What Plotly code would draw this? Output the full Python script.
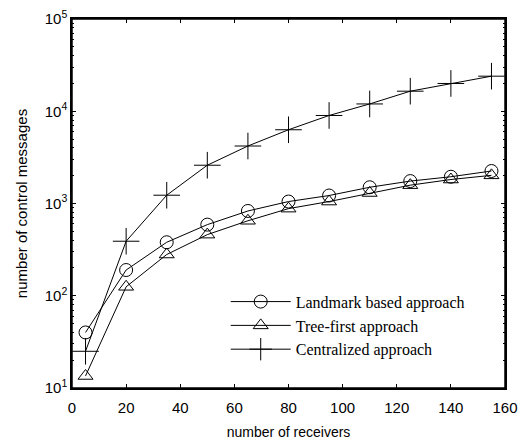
import plotly.graph_objects as go

receivers = [5, 20, 35, 50, 65, 80, 95, 110, 125, 140, 155]
landmark = [40, 190, 380, 590, 830, 1050, 1220, 1500, 1750, 1950, 2250]
tree_first = [13.5, 125, 280, 460, 650, 880, 1050, 1300, 1580, 1820, 2020]
centralized = [25, 390, 1230, 2600, 4200, 6300, 9000, 12000, 16500, 20000, 24000]

series_names = ["Landmark based approach", "Tree-first approach", "Centralized approach"]
x_ticks = [0, 20, 40, 60, 80, 100, 120, 140, 160]
y_ticks = [10, 100, 1000, 10000, 100000]
y_ticktext = ["10<sup>1</sup>", "10<sup>2</sup>", "10<sup>3</sup>", "10<sup>4</sup>", "10<sup>5</sup>"]

fig = go.Figure()
symbols = ["circle-open", "triangle-up-open", "cross-thin-open"]
sizes = [13, 13, 19]
for name, ys, sym, sz in zip(series_names, [landmark, tree_first, centralized], symbols, sizes):
    fig.add_trace(go.Scatter(
        x=receivers, y=ys, name=name, mode="lines+markers",
        line=dict(color="black", width=1),
        marker=dict(symbol=sym, size=sz, color="black", line=dict(color="black", width=1)),
    ))

axis_common = dict(
    showline=True, linecolor="black", linewidth=1.5, mirror="ticks",
    ticks="inside", ticklen=4, tickcolor="black", showgrid=False, zeroline=False,
    automargin=False,
    tickfont=dict(family="Liberation Sans, Arial", size=15, color="black"),
)

fig.update_xaxes(range=[0, 160], tickvals=x_ticks, ticklabelstandoff=5,
                 title=dict(text="number of receivers", font=dict(family="Liberation Sans, Arial", size=14, color="black"), standoff=12),
                 **axis_common)
fig.update_yaxes(type="log", range=[1, 5], tickvals=y_ticks, ticktext=y_ticktext,
                 minor=dict(ticks="inside", ticklen=2, tickcolor="black", dtick="D1", showgrid=False),
                 title=dict(text="number of control messages", font=dict(family="Liberation Sans, Arial", size=15, color="black"), standoff=13),
                 **axis_common)

# plot frame
fig.add_shape(type="rect", xref="paper", yref="paper", x0=0, x1=1, y0=0, y1=1,
              line=dict(color="black", width=1.5), layer="above")

fig.update_layout(
    width=527, height=445,
    margin=dict(l=72, r=22, t=19, b=57),
    plot_bgcolor="white", paper_bgcolor="white",
    legend=dict(x=0.355, y=0.28, xanchor="left", yanchor="top",
                bgcolor="rgba(0,0,0,0)", borderwidth=0,
                font=dict(family="Liberation Serif, Times New Roman", size=16, color="black"),
                itemwidth=60, tracegroupgap=10),
    showlegend=True,
)

fig.write_html(
    "out.html",
    config={"displayModeBar": False},
    post_script="document.body.style.margin='0';document.body.style.overflow='hidden';window.scrollTo(0,0);",
)
